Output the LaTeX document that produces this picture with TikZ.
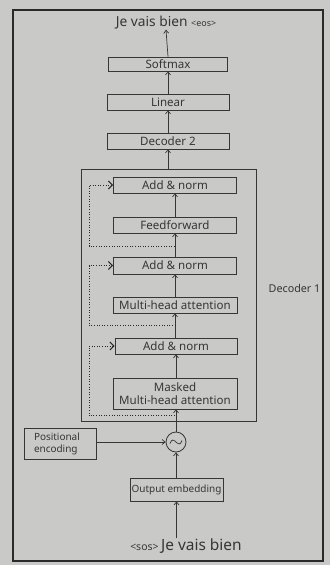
\documentclass[tikz,border=0pt]{standalone}
\usepackage{fontspec}
\setmainfont{Noto Sans}
\usetikzlibrary{arrows.meta,calc}
\definecolor{paper}{HTML}{C9C9C7}
\definecolor{ink}{HTML}{363636}
\definecolor{frameink}{HTML}{2A2A2A}
\begin{document}
\begin{tikzpicture}[x=1bp,y=-1bp,
  every node/.style={text=ink, inner sep=0pt},
  layer/.style={draw=ink, line width=0.7bp, minimum width=122bp, minimum height=16bp, font=\fontsize{11.6}{13}\selectfont},
  flow/.style={draw=ink, line width=0.7bp, -{Straight Barb[length=3bp,width=5bp]}},
  residual/.style={draw=frameink, line width=1bp, dash pattern=on 1bp off 1.6bp, -{Straight Barb[length=4bp,width=8bp]}},
  small/.style={font=\fontsize{10}{12}\selectfont},
]
% page and outer frame
\fill[paper] (0,0) rectangle (330,565);
\useasboundingbox (0,0) rectangle (330,565);
\draw[frameink, line width=1.3bp] (13,10) rectangle (323,561);

% output side
\node (out) at (166,23) {\fontsize{13.8}{15}\selectfont Je vais bien {\fontsize{9}{10}\selectfont<eos>}};
\node[layer, minimum width=119bp, minimum height=14bp] (softmax) at (168,64) {Softmax};
\node[layer] (linear) at (168,102) {Linear};
\node[layer] (dec2) at (168,141) {Decoder 2};

% decoder 1 block
\node[draw=ink, line width=0.8bp, minimum width=175bp, minimum height=252bp] (dec1) at (168.5,295) {};
\node[font=\fontsize{10.8}{13}\selectfont] (dec1label) at (294.5,288) {Decoder 1};
\node[layer, minimum width=123bp] (an1) at (175,185) {Add \& norm};
\node[layer, minimum width=123bp] (ff) at (175,225) {Feedforward};
\node[layer, minimum width=123bp, minimum height=17bp] (an2) at (175,265.5) {Add \& norm};
\node[layer, minimum width=124bp] (mha) at (175,305) {Multi-head attention};
\node[layer, minimum width=122bp] (an3) at (176,346) {Add \& norm};
\node[layer, minimum width=124bp, minimum height=31bp, align=center, font=\fontsize{11.6}{13.5}\selectfont] (mmha) at (175,393.5) {Masked\\Multi-head attention};

% input side
\node[draw=ink, line width=0.8bp, circle, minimum size=20bp] (mix) at (176,442) {};
\draw[ink, line width=0.7bp] ($(mix)+(-6,1.5)$) .. controls ($(mix)+(-2.5,-9)$) and ($(mix)+(2.5,9)$) .. ($(mix)+(6,-1.5)$);
\node[draw=ink, line width=0.8bp, minimum width=72bp, minimum height=31bp, align=left, small, text width=52bp] (pos) at (60,443.5) {Positional\\encoding};
\node[draw=ink, line width=0.8bp, minimum width=93bp, minimum height=23bp, small] (emb) at (176.5,489.5) {Output embedding};
\node (in) at (186,546) {{\fontsize{10.5}{11}\selectfont<sos>} \fontsize{15.5}{17}\selectfont Je vais bien};

% main data flow
\draw[flow] (emb.south |- in.north) -- (emb.south);
\draw[flow] (emb.north -| mix) -- (mix.south);
\draw[flow] (pos.east |- mix) -- (mix.west);
\draw[flow] (mix.north) -- (mix |- mmha.south);
\draw[flow] (mmha.north -| an3) -- (an3.south);
\draw[flow] (an3.north -| mha) -- (mha.south);
\draw[flow] (mha.north -| an2) -- (an2.south);
\draw[flow] (an2.north -| ff) -- (ff.south);
\draw[flow] (ff.north -| an1) -- (an1.south);
\draw[flow] (dec2.south |- dec1.north) -- (dec2.south);
\draw[flow] (dec2.north) -- (linear.south);
\draw[flow] (linear.north) -- (softmax.south);
\draw[flow] (softmax.north) -- (out.south);

% residual connections
\coordinate (lane) at (89,0);
\coordinate (r1) at ($(ff.south)!0.55!(an2.north)$);
\coordinate (r2) at ($(mha.south)!0.5!(an3.north)$);
\coordinate (r3) at ($(mmha.south)!0.55!(dec1.south -| mmha)$);
\draw[residual] (r1) -- (r1 -| lane) |- (an1.west);
\draw[residual] (r2) -- (r2 -| lane) |- (an2.west);
\draw[residual] (r3) -- (r3 -| lane) |- (an3.west);
\end{tikzpicture}
\end{document}
